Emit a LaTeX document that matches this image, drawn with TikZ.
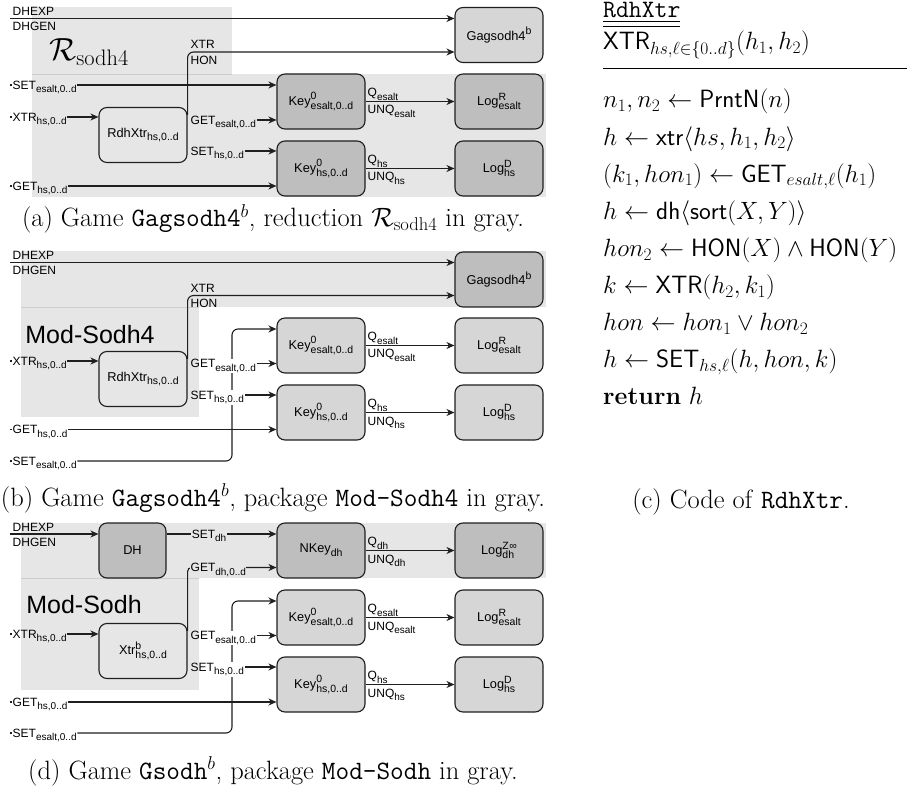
\RequirePackage{fix-cm}
\documentclass[tikz,border=0pt]{standalone}
\usepackage{amsmath,amssymb}
\usepackage{fontspec}
\newfontfamily\dsans{Liberation Sans}
\usetikzlibrary{arrows.meta}
\pgfdeclarelayer{bg}\pgfdeclarelayer{mid}\pgfdeclarelayer{fg}
\pgfsetlayers{bg,main,mid,fg}
\definecolor{regc}{HTML}{E6E6E6}
\definecolor{lightc}{HTML}{D6D6D6}
\definecolor{darkc}{HTML}{BEBEBE}
\definecolor{linec}{HTML}{1F1F1F}
\definecolor{sepc}{HTML}{CDCDCD}
\newcommand{\smallsz}{\fontsize{10}{11}\selectfont}
\newcommand{\dsub}[1]{\raisebox{-0.3em}{\smallsz #1}}
\newcommand{\dsup}[1]{\raisebox{0.42em}{\smallsz #1}}
\newsavebox\supbx \newsavebox\subbx
\newcommand{\dss}[2]{\sbox\supbx{\dsup{#1}}\sbox\subbx{\dsub{#2}}\ifdim\wd\supbx>\wd\subbx\relax\rlap{\usebox\subbx}\usebox\supbx\else\rlap{\usebox\supbx}\usebox\subbx\fi}
\tikzset{
  box/.style={draw=linec, line width=1.1pt, rounded corners=8pt, minimum width=88pt, minimum height=55pt, inner sep=0pt,
    font={\dsans\fontsize{12.8}{14}\selectfont\def\smallsz{\fontsize{10.5}{11}\selectfont}}},
  litebox/.style={box, fill=lightc},
  darkbox/.style={box, fill=darkc},
  plainbox/.style={box, fill=regc},
  conn/.style={draw=linec, line width=1.1pt, -{Stealth[length=8pt,width=7pt,inset=2.5pt]}},
  wire/.style={draw=linec, line width=1.1pt},
  elab/.style={inner sep=0.5pt, anchor=base west, font={\dsans\fontsize{12}{13}\selectfont}},
  regtitle/.style={inner sep=0pt, font={\dsans\fontsize{25}{28}\selectfont}},
  capt/.style={inner sep=0pt, anchor=base, font={\fontsize{26.5}{32}\selectfont}},
  code/.style={inner sep=0pt, anchor=base west, font={\fontsize{25}{30}\selectfont}},
}
% input from the left edge
\newcommand{\inp}[4]{\coordinate (#1s) at (10,#2);
  \node[elab] (#1) at (12,#2+4.3) {#3};
  \draw[wire] (#1s) -- ([xshift=2pt]#1s);
  \draw[conn] (#1.east |- #1s) -- (#4.west |- #1s);}
% output from a box (label at start)
\newcommand{\outp}[4]{\coordinate (#1s) at (188,#2);
  \node[elab] (#1) at (190,#2+4.3) {#3};
  \draw[conn] (#1.east |- #1s) -- (#4.west |- #1s);}
% output with white patch below the label
\newcommand{\outpw}[4]{\coordinate (#1s) at (188,#2);
  \begin{pgfonlayer}{fg}\node[elab] (#1) at (190,#2+4.3) {#3};\end{pgfonlayer}
  \begin{pgfonlayer}{mid}\fill[white] (#1.south west -| cutx) rectangle (#1.north east);\end{pgfonlayer}
  \draw[conn] (#1.east |- #1s) -- (#4.west |- #1s);}
\begin{document}
\begin{tikzpicture}[x=1pt,y=-1pt,line join=round]
\useasboundingbox (0,0) rectangle (908,794);
\coordinate (cutx) at (200,0);

%% ================= (a)
\begin{pgfonlayer}{bg}
\fill[regc] (32,7) rectangle (232,74);
\fill[regc] (32,74) rectangle (546,197);
\draw[sepc, line width=0.8pt] (32,74) -- (232,74);
\end{pgfonlayer}
\node[inner sep=0pt, font=\fontsize{32}{34}\selectfont] (aRt) at (89,52) {$\mathcal{R}_{\text{sodh4}}$};
\node[litebox] (aGag) at (499,35) {Gagsodh4\dsup{b}};
\node[darkbox] (aKeyE) at (321,101.5) {Key\dss{0}{esalt,0..d}};
\node[darkbox] (aKeyH) at (321,168.5) {Key\dss{0}{hs,0..d}};
\node[darkbox] (aLogE) at (499,101.5) {Log\dss{R}{esalt}};
\node[darkbox] (aLogH) at (499,168.5) {Log\dss{D}{hs}};
\node[plainbox] (aRdh) at (143,135) {RdhXtr\dsub{hs,0..d}};
\coordinate (aDH) at (10,18.5);
\node[elab] (aDHe) at (12,15.5) {DHEXP};
\node[elab] (aDHg) at (12,31) {DHGEN};
\draw[conn] (aDH) -- (aGag.west |- aDH);
\draw[conn, rounded corners=6pt] ([yshift=-8pt]aRdh.north east) |- ([yshift=-17pt]aGag.west);
\node[elab] (aXTR) at (190,49) {XTR};
\node[elab] (aHON) at (190,64.5) {HON};
\inp{aS1}{85}{SET\dsub{esalt,0..d}}{aKeyE}
\inp{aX1}{117}{XTR\dsub{hs,0..d}}{aRdh}
\inp{aG2}{186}{GET\dsub{hs,0..d}}{aKeyH}
\outp{aG1}{120}{GET\dsub{esalt,0..d}}{aKeyE}
\outp{aS2}{151}{SET\dsub{hs,0..d}}{aKeyH}
\draw[conn] (aKeyE) -- (aLogE);
\node[elab] (aQe) at (367,96.5) {Q\dsub{esalt}};
\node[elab] (aUe) at (367,114) {UNQ\dsub{esalt}};
\draw[conn] (aKeyH) -- (aLogH);
\node[elab] (aQh) at (367,163.5) {Q\dsub{hs}};
\node[elab] (aUh) at (367,181) {UNQ\dsub{hs}};
\node[capt] (aCap) at (273,227) {(a) Game \texttt{Gagsodh4}$^b$, reduction $\mathcal{R}_{\text{sodh4}}$ in gray.};

%% ================= (b)
\begin{scope}[shift={(0,244)}]
\begin{pgfonlayer}{bg}
\fill[regc] (21,7) rectangle (546,63);
\fill[regc] (21,63) rectangle (199,173);
\draw[sepc, line width=0.8pt] (21,63) -- (199,63);
\end{pgfonlayer}
\node[regtitle] (bRt) at (90,91) {Mod-Sodh4};
\node[darkbox] (bGag) at (499,35.5) {Gagsodh4\dsup{b}};
\node[litebox] (bKeyE) at (321,101.5) {Key\dss{0}{esalt,0..d}};
\node[litebox] (bKeyH) at (321,168.5) {Key\dss{0}{hs,0..d}};
\node[litebox] (bLogE) at (499,101.5) {Log\dss{R}{esalt}};
\node[litebox] (bLogH) at (499,168.5) {Log\dss{D}{hs}};
\node[plainbox] (bRdh) at (143,135) {RdhXtr\dsub{hs,0..d}};
\coordinate (bDH) at (10,18.5);
\node[elab] (bDHe) at (12,15.5) {DHEXP};
\node[elab] (bDHg) at (12,31) {DHGEN};
\draw[conn] (bDH) -- (bGag.west |- bDH);
\draw[conn, rounded corners=6pt] ([yshift=-8pt]bRdh.north east) |- ([yshift=-16pt]bGag.west);
\node[elab] (bXTR) at (190,48.5) {XTR};
\node[elab] (bHON) at (190,64) {HON};
\inp{bX1}{117}{XTR\dsub{hs,0..d}}{bRdh}
\inp{bG2}{185.5}{GET\dsub{hs,0..d}}{bKeyH}
\coordinate (bS1s) at (10,217);
\node[elab] (bS1) at (12,221.3) {SET\dsub{esalt,0..d}};
\draw[wire] (bS1s) -- ([xshift=2pt]bS1s);
\coordinate (bV) at (232,85);
\draw[conn, rounded corners=6pt] (bS1.east |- bS1s) -| (bV) -- (bKeyE.west |- bV);
\outpw{bG1}{119.5}{GET\dsub{esalt,0..d}}{bKeyE}
\outpw{bS2}{151}{SET\dsub{hs,0..d}}{bKeyH}
\draw[conn] (bKeyE) -- (bLogE);
\node[elab] (bQe) at (367,96.5) {Q\dsub{esalt}};
\node[elab] (bUe) at (367,114) {UNQ\dsub{esalt}};
\draw[conn] (bKeyH) -- (bLogH);
\node[elab] (bQh) at (367,163.5) {Q\dsub{hs}};
\node[elab] (bUh) at (367,181) {UNQ\dsub{hs}};
\node[capt] (bCap) at (273,262.5) {(b) Game \texttt{Gagsodh4}$^b$, package \texttt{Mod-Sodh4} in gray.};
\end{scope}

%% ================= (d)
\begin{scope}[shift={(0,516)}]
\begin{pgfonlayer}{bg}
\fill[regc] (21,7) rectangle (546,62);
\fill[regc] (21,62) rectangle (199,174);
\draw[sepc, line width=0.8pt] (21,62) -- (199,62);
\end{pgfonlayer}
\node[regtitle] (dRt) at (84,89) {Mod-Sodh};
\node[darkbox, minimum width=67pt] (dDH) at (132.5,34.5) {DH};
\node[darkbox] (dNK) at (321,34.5) {NKey\dsub{dh}};
\node[darkbox] (dLZ) at (499,34.5) {Log\dss{Z\kern0.5pt∞}{dh}};
\node[litebox] (dKeyE) at (321,101.5) {Key\dss{0}{esalt,0..d}};
\node[litebox] (dKeyH) at (321,168.5) {Key\dss{0}{hs,0..d}};
\node[litebox] (dLogE) at (499,101.5) {Log\dss{R}{esalt}};
\node[litebox] (dLogH) at (499,168.5) {Log\dss{D}{hs}};
\node[plainbox] (dXtr) at (143,135) {Xtr\dss{b}{hs,0..d}};
\coordinate (dDHs) at (10,18);
\node[elab] (dDHe) at (12,15) {DHEXP};
\node[elab] (dDHg) at (12,30.5) {DHGEN};
\draw[conn] (dDHs) -- (dDH.west |- dDHs);
\coordinate (dSy) at (0,18);
\draw[conn] (dDH.east |- dSy) -- (dNK.west |- dSy);
\node[elab, anchor=base, fill=regc] (dSdh) at (209,22.3) {SET\dsub{dh}};
\coordinate (dGy) at (0,51.5);
\draw[conn, rounded corners=4pt] ([yshift=-8pt]dXtr.north east) |- (dNK.west |- dGy);
\node[elab, fill=regc] (dGdh) at (190,55.8) {GET\dsub{dh,0..d}};
\inp{dX1}{118}{XTR\dsub{hs,0..d}}{dXtr}
\inp{dG2}{186}{GET\dsub{hs,0..d}}{dKeyH}
\coordinate (dS1s) at (10,217);
\node[elab] (dS1) at (12,221.3) {SET\dsub{esalt,0..d}};
\draw[wire] (dS1s) -- ([xshift=2pt]dS1s);
\coordinate (dV) at (232,85);
\draw[conn, rounded corners=6pt] (dS1.east |- dS1s) -| (dV) -- (dKeyE.west |- dV);
\outpw{dG1}{119.5}{GET\dsub{esalt,0..d}}{dKeyE}
\outpw{dS2}{151}{SET\dsub{hs,0..d}}{dKeyH}
\draw[conn] (dNK) -- (dLZ);
\node[elab] (dQd) at (367,29.5) {Q\dsub{dh}};
\node[elab] (dUd) at (367,47) {UNQ\dsub{dh}};
\draw[conn] (dKeyE) -- (dLogE);
\node[elab] (dQe) at (367,96.5) {Q\dsub{esalt}};
\node[elab] (dUe) at (367,114) {UNQ\dsub{esalt}};
\draw[conn] (dKeyH) -- (dLogH);
\node[elab] (dQh) at (367,163.5) {Q\dsub{hs}};
\node[elab] (dUh) at (367,181) {UNQ\dsub{hs}};
\node[capt] (dCap) at (273,263) {(d) Game \texttt{Gsodh}$^b$, package \texttt{Mod-Sodh} in gray.};
\end{scope}

%% ================= (c) code
\node[code] (cT) at (603,18) {\underline{\underline{\texttt{RdhXtr}}}};
\node[code] (cH) at (603,50) {$\mathsf{XTR}_{hs,\ell\in\{0..d\}}(h_1,h_2)$};
\coordinate (cR1) at (603,68.5);
\coordinate (cR2) at (907,68.5);
\draw[line width=0.9pt] (cR1) -- (cR2);
\node[code] (c1) at (603,108) {$n_1,n_2\leftarrow\mathsf{PrntN}(n)$};
\node[code] (c2) at (603,145.1) {$h\leftarrow\mathsf{xtr}\langle hs,h_1,h_2\rangle$};
\node[code] (c3) at (603,182.2) {$(k_1,hon_1)\leftarrow\mathsf{GET}_{esalt,\ell}(h_1)$};
\node[code] (c4) at (603,219.3) {$h\leftarrow\mathsf{dh}\langle\mathsf{sort}(X,Y)\rangle$};
\node[code] (c5) at (603,256.4) {$hon_2\leftarrow\mathsf{HON}(X)\wedge\mathsf{HON}(Y)$};
\node[code] (c6) at (603,293.5) {$k\leftarrow\mathsf{XTR}(h_2,k_1)$};
\node[code] (c7) at (603,330.6) {$hon\leftarrow hon_1\vee hon_2$};
\node[code] (c8) at (603,367.7) {$h\leftarrow\mathsf{SET}_{hs,\ell}(h,hon,k)$};
\node[code] (c9) at (603,404.8) {\textbf{return} $h$};
\node[capt] (cCap) at (741,508) {(c) Code of \texttt{RdhXtr}.};
\end{tikzpicture}
\end{document}
